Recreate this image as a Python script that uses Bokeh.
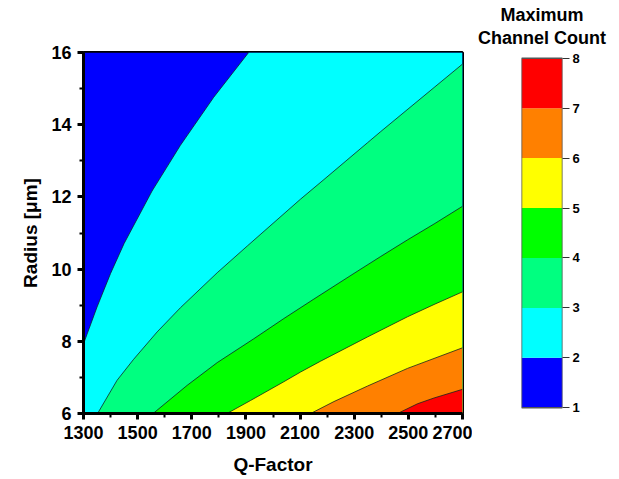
from bokeh.plotting import figure
from bokeh.models import FixedTicker, Range1d, LinearAxis, Title
from bokeh.layouts import row
from bokeh.embed import file_html
from bokeh.resources import INLINE

# ---- data ----
X_MIN, X_MAX = 1300, 2700
Y_MIN, Y_MAX = 6, 16
LEVELS = [1, 2, 3, 4, 5, 6, 7, 8]
COLORS = ["#0000FF", "#00FFFF", "#00FF80", "#00FF00", "#FFFF00", "#FF8000", "#FF0000"]
X_TICKS = [1300, 1500, 1700, 1900, 2100, 2300, 2500, 2700]
Y_TICKS = [6, 8, 10, 12, 14, 16]

# contour boundaries (Q-factor, radius) between successive channel counts
b12_q = [1300, 1350, 1400, 1450, 1553, 1658, 1781, 1910]
b12_r = [7.93, 8.95, 9.88, 10.71, 12.16, 13.43, 14.76, 16.0]
b23_q = [1352, 1424, 1485, 1572, 1658, 1794, 1905, 2102, 2188, 2349, 2398, 2595, 2700]
b23_r = [6.0, 6.92, 7.50, 8.26, 8.93, 9.90, 10.64, 11.94, 12.48, 13.50, 13.81, 15.03, 15.68]
b34_q = [1557, 1683, 1794, 1929, 2040, 2151, 2299, 2398, 2497, 2595, 2700]
b34_r = [6.0, 6.78, 7.41, 8.07, 8.63, 9.17, 9.88, 10.35, 10.81, 11.25, 11.74]
b45_q = [1830, 1917, 2040, 2102, 2176, 2349, 2497, 2595, 2700]
b45_r = [6.0, 6.36, 6.88, 7.15, 7.45, 8.12, 8.68, 9.02, 9.37]
b56_q = [2139, 2225, 2349, 2497, 2700]
b56_r = [6.0, 6.33, 6.76, 7.25, 7.82]
b67_q = [2460, 2534, 2595, 2700]
b67_r = [6.0, 6.27, 6.43, 6.67]

boundaries = [(b12_q, b12_r), (b23_q, b23_r), (b34_q, b34_r),
              (b45_q, b45_r), (b56_q, b56_r), (b67_q, b67_r)]

FONT = "Liberation Sans"

p = figure(width=472, height=479, output_backend="svg", toolbar_location=None,
           x_range=Range1d(X_MIN, X_MAX), y_range=Range1d(Y_MIN, Y_MAX),
           min_border_left=83, min_border_right=10, min_border_top=52,
           min_border_bottom=66)

p.grid.visible = False
p.outline_line_color = "black"
p.outline_line_width = 3

# lowest level region fills the whole frame
p.quad(left=X_MIN, right=X_MAX, bottom=Y_MIN, top=Y_MAX,
       fill_color=COLORS[0], line_color=None)

# each higher level: region on the lower-right side of its boundary
for i, (bq, br) in enumerate(boundaries):
    xs = list(bq)
    ys = list(br)
    if ys[-1] >= Y_MAX:
        xs.append(X_MAX); ys.append(Y_MAX)
    xs.append(X_MAX); ys.append(Y_MIN)
    if xs[0] <= X_MIN:
        xs.append(X_MIN); ys.append(Y_MIN)
    p.patch(xs, ys, fill_color=COLORS[i + 1], line_color=None)

for bq, br in boundaries:
    p.line(bq, br, line_color="#102020", line_width=0.9, line_alpha=0.85)

# axes
for ax in (p.xaxis[0], p.yaxis[0]):
    ax.axis_line_width = 3
    ax.major_tick_line_width = 3
    ax.major_tick_in = 0
    ax.major_tick_out = 6
    ax.minor_tick_line_width = 2
    ax.minor_tick_in = 0
    ax.minor_tick_out = 4
    ax.major_label_text_font = FONT
    ax.major_label_text_font_style = "bold"
    ax.major_label_text_font_size = "18px"
    ax.major_label_text_color = "black"
    ax.axis_label_text_font = FONT
    ax.axis_label_text_font_style = "bold"
    ax.axis_label_text_font_size = "19px"
    ax.axis_label_text_color = "black"
    ax.major_label_standoff = 6

p.xaxis.ticker = FixedTicker(ticks=X_TICKS, minor_ticks=[t + 100 for t in X_TICKS[:-1]])
p.yaxis.ticker = FixedTicker(ticks=Y_TICKS, minor_ticks=[t + 1 for t in Y_TICKS[:-1]])
p.xaxis.axis_label = "Q-Factor"
p.yaxis.axis_label = "Radius [μm]"
p.xaxis.axis_label_standoff = 12
p.yaxis.axis_label_standoff = 7

# ---- colour bar as its own small figure (frame aligned with main frame) ----
PAD = 0.115  # blank margin above/below the bar, in level units
cbf = figure(width=147, height=479, output_backend="svg", toolbar_location=None,
             x_range=Range1d(0, 1),
             y_range=Range1d(LEVELS[0] - PAD, LEVELS[-1] + PAD),
             min_border_left=49, min_border_right=57, min_border_top=52,
             min_border_bottom=66, x_axis_location=None, y_axis_location=None)
cbf.grid.visible = False
cbf.outline_line_color = None
cbf.quad(left=0, right=1, bottom=LEVELS[:-1], top=LEVELS[1:],
         fill_color=COLORS, line_color=None)
cbf.quad(left=0, right=1, bottom=LEVELS[0], top=LEVELS[-1],
         fill_color=None, line_color="#555555", line_width=1.5)
cax = LinearAxis(ticker=FixedTicker(ticks=LEVELS))
cax.axis_line_color = None
cax.major_tick_in = 0
cax.major_tick_out = 7
cax.major_tick_line_width = 1
cax.major_tick_line_color = "#333333"
cax.minor_tick_line_color = None
cax.major_label_standoff = 3
cax.major_label_text_font = FONT
cax.major_label_text_font_style = "bold"
cax.major_label_text_font_size = "13px"
cax.major_label_text_color = "black"
cbf.add_layout(cax, "right")

cbf.add_layout(Title(text="Channel Count", align="center", text_font=FONT,
                     text_font_style="bold", text_font_size="18px",
                     text_color="black", standoff=9), "above")
cbf.add_layout(Title(text="Maximum", align="center", text_font=FONT,
                     text_font_style="bold", text_font_size="18px",
                     text_color="black", standoff=-6), "above")

layout = row(p, cbf)
open("out.html", "w").write(file_html(layout, INLINE))
